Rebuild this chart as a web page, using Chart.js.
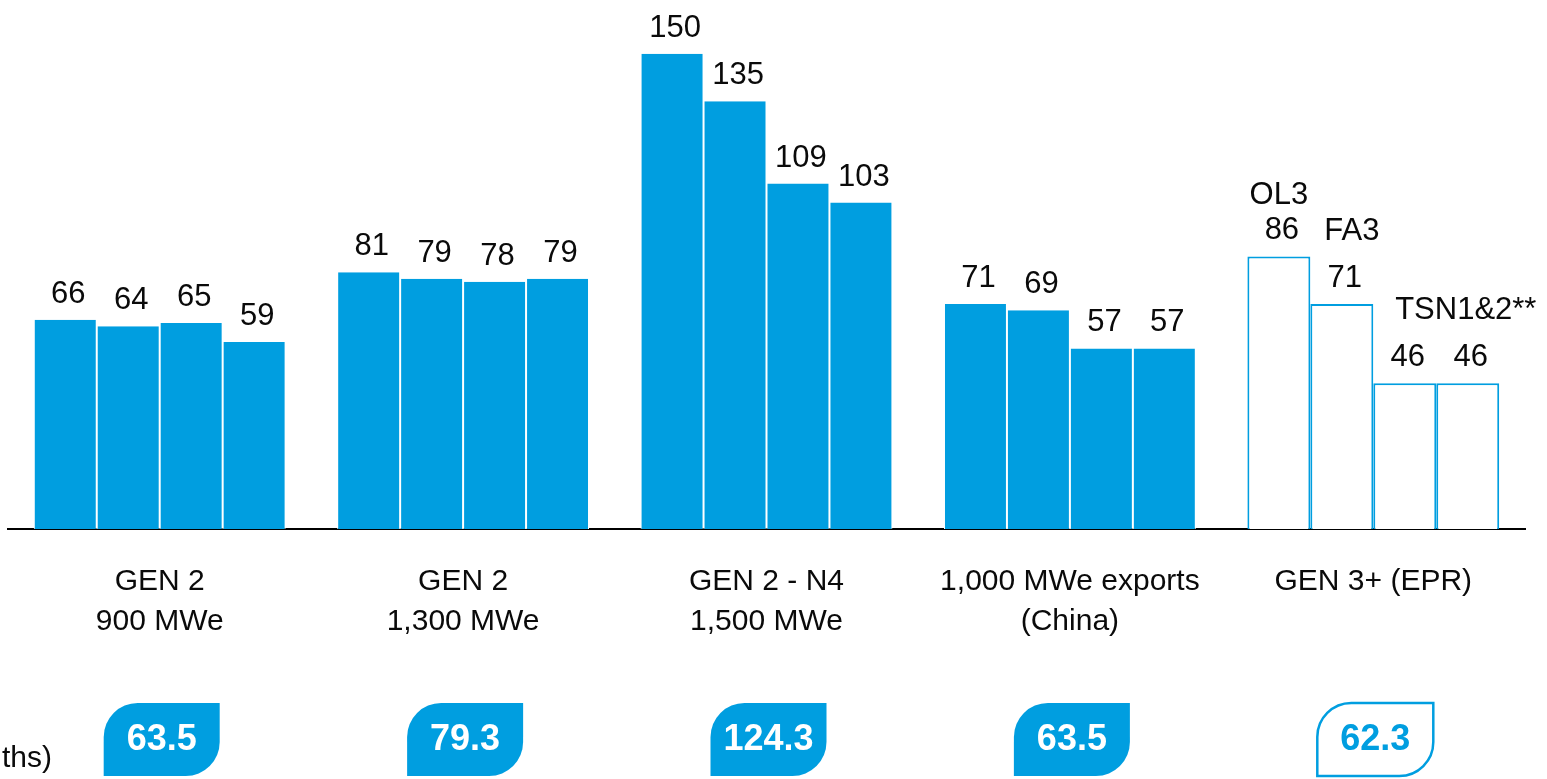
<!DOCTYPE html>
<html>
<head>
<meta charset="utf-8">
<script src="https://cdn.jsdelivr.net/npm/chart.js@4/dist/chart.umd.min.js"></script>
<style>
  html, body { margin: 0; padding: 0; background: #ffffff; }
  #wrap { width: 1547px; height: 779px; }
</style>
</head>
<body>
<div id="wrap"><canvas id="c" width="1547" height="779"></canvas></div>
<script>
// Reactor series and construction durations
const categories = [
  ['GEN 2', '900 MWe'],
  ['GEN 2', '1,300 MWe'],
  ['GEN 2 - N4', '1,500 MWe'],
  ['1,000 MWe exports', '(China)'],
  'GEN 3+ (EPR)'
];
const unit1 = [66, 81, 150, 71, 86];
const unit2 = [64, 79, 135, 69, 71];
const unit3 = [65, 78, 109, 57, 46];
const unit4 = [59, 79, 103, 57, 46];
const averages = [63.5, 79.3, 124.3, 63.5, 62.3];
const eprNames = ['OL3', 'FA3', 'TSN1&2**'];
const unitLabel = 'ths)';

// Styling
const BLUE = '#009EE0';
const INK = '#0a0a0a';
const FONT = '"Liberation Sans", Arial, Helvetica, sans-serif';
const hollowGroup = 4;                 // EPR group drawn as outlines
const valueDx = 3;                     // value labels sit slightly right of bar centre
// name tags over EPR bars: [dataset, text, dx from bar centre, lift above value]
const eprTags = [
  [0, eprNames[0], 0, 35],
  [1, eprNames[1], 10, 47],
  [2, eprNames[2], 61, 47]
];

const series = [unit1, unit2, unit3, unit4];

const datasets = series.map((vals) => ({
  data: vals,
  backgroundColor: (ctx) => ctx.dataIndex === hollowGroup ? '#ffffff' : BLUE,
  borderColor: (ctx) => ctx.dataIndex === hollowGroup ? BLUE : '#ffffff',
  borderWidth: (ctx) => ctx.dataIndex === hollowGroup
    ? { top: 2, left: 2, right: 2, bottom: 0 }
    : { top: 0, left: 1, right: 1, bottom: 0 },
  borderSkipped: 'bottom',
  barPercentage: 1.0,
  categoryPercentage: 0.83
}));

const overlay = {
  id: 'overlay',
  afterDatasetsDraw(chart) {
    const ctx = chart.ctx;
    const xs = chart.scales.x;
    ctx.save();

    // value above every bar
    ctx.fillStyle = INK;
    ctx.font = '31px ' + FONT;
    ctx.textAlign = 'center';
    ctx.textBaseline = 'alphabetic';
    chart.data.datasets.forEach((ds, di) => {
      const meta = chart.getDatasetMeta(di);
      meta.data.forEach((bar, i) => {
        ctx.fillText(String(ds.data[i]), bar.x + valueDx, bar.y - 17);
      });
    });

    // EPR project names
    eprTags.forEach(([di, text, dx, lift]) => {
      const bar = chart.getDatasetMeta(di).data[hollowGroup];
      ctx.fillText(text, bar.x + dx, bar.y - 17 - lift);
    });

    // average badges
    const bw = 116, bh = 73, top = 703, r = 34;
    averages.forEach((v, i) => {
      const cx = xs.getPixelForValue(i) + 2;
      const l = cx - bw / 2, rgt = cx + bw / 2, btm = top + bh;
      ctx.beginPath();
      ctx.moveTo(l + r, top);
      ctx.lineTo(rgt, top);
      ctx.lineTo(rgt, btm - r);
      ctx.arcTo(rgt, btm, rgt - r, btm, r);
      ctx.lineTo(l, btm);
      ctx.lineTo(l, top + r);
      ctx.arcTo(l, top, l + r, top, r);
      ctx.closePath();
      const hollow = i === hollowGroup;
      if (hollow) {
        ctx.fillStyle = '#ffffff';
        ctx.fill();
        ctx.lineWidth = 2.5;
        ctx.strokeStyle = BLUE;
        ctx.stroke();
      } else {
        ctx.fillStyle = BLUE;
        ctx.fill();
      }
      ctx.fillStyle = hollow ? BLUE : '#ffffff';
      ctx.font = 'bold 36px ' + FONT;
      ctx.textAlign = 'center';
      ctx.textBaseline = 'middle';
      ctx.fillText(v.toFixed(1), cx, top + bh / 2 + 1);
    });

    // unit caption at the left edge
    ctx.fillStyle = INK;
    ctx.font = '30px ' + FONT;
    ctx.textAlign = 'right';
    ctx.textBaseline = 'alphabetic';
    ctx.fillText(unitLabel, 52, 767);

    ctx.restore();
  }
};

new Chart(document.getElementById('c'), {
  type: 'bar',
  data: { labels: categories, datasets },
  options: {
    responsive: false,
    animation: false,
    layout: { padding: { top: 22, left: 8, right: 22, bottom: 0 } },
    plugins: { legend: { display: false }, tooltip: { enabled: false } },
    scales: {
      y: { display: false, min: 0, max: 160 },
      x: {
        grid: { display: false, drawTicks: false },
        border: { display: true, color: '#000000', width: 2 },
        ticks: {
          color: INK,
          font: { family: FONT, size: 30, lineHeight: 1.36 },
          padding: 32,
          maxRotation: 0,
          autoSkip: false
        },
        afterFit(scale) { scale.height = 250; }
      }
    }
  },
  plugins: [overlay]
});
</script>
</body>
</html>
